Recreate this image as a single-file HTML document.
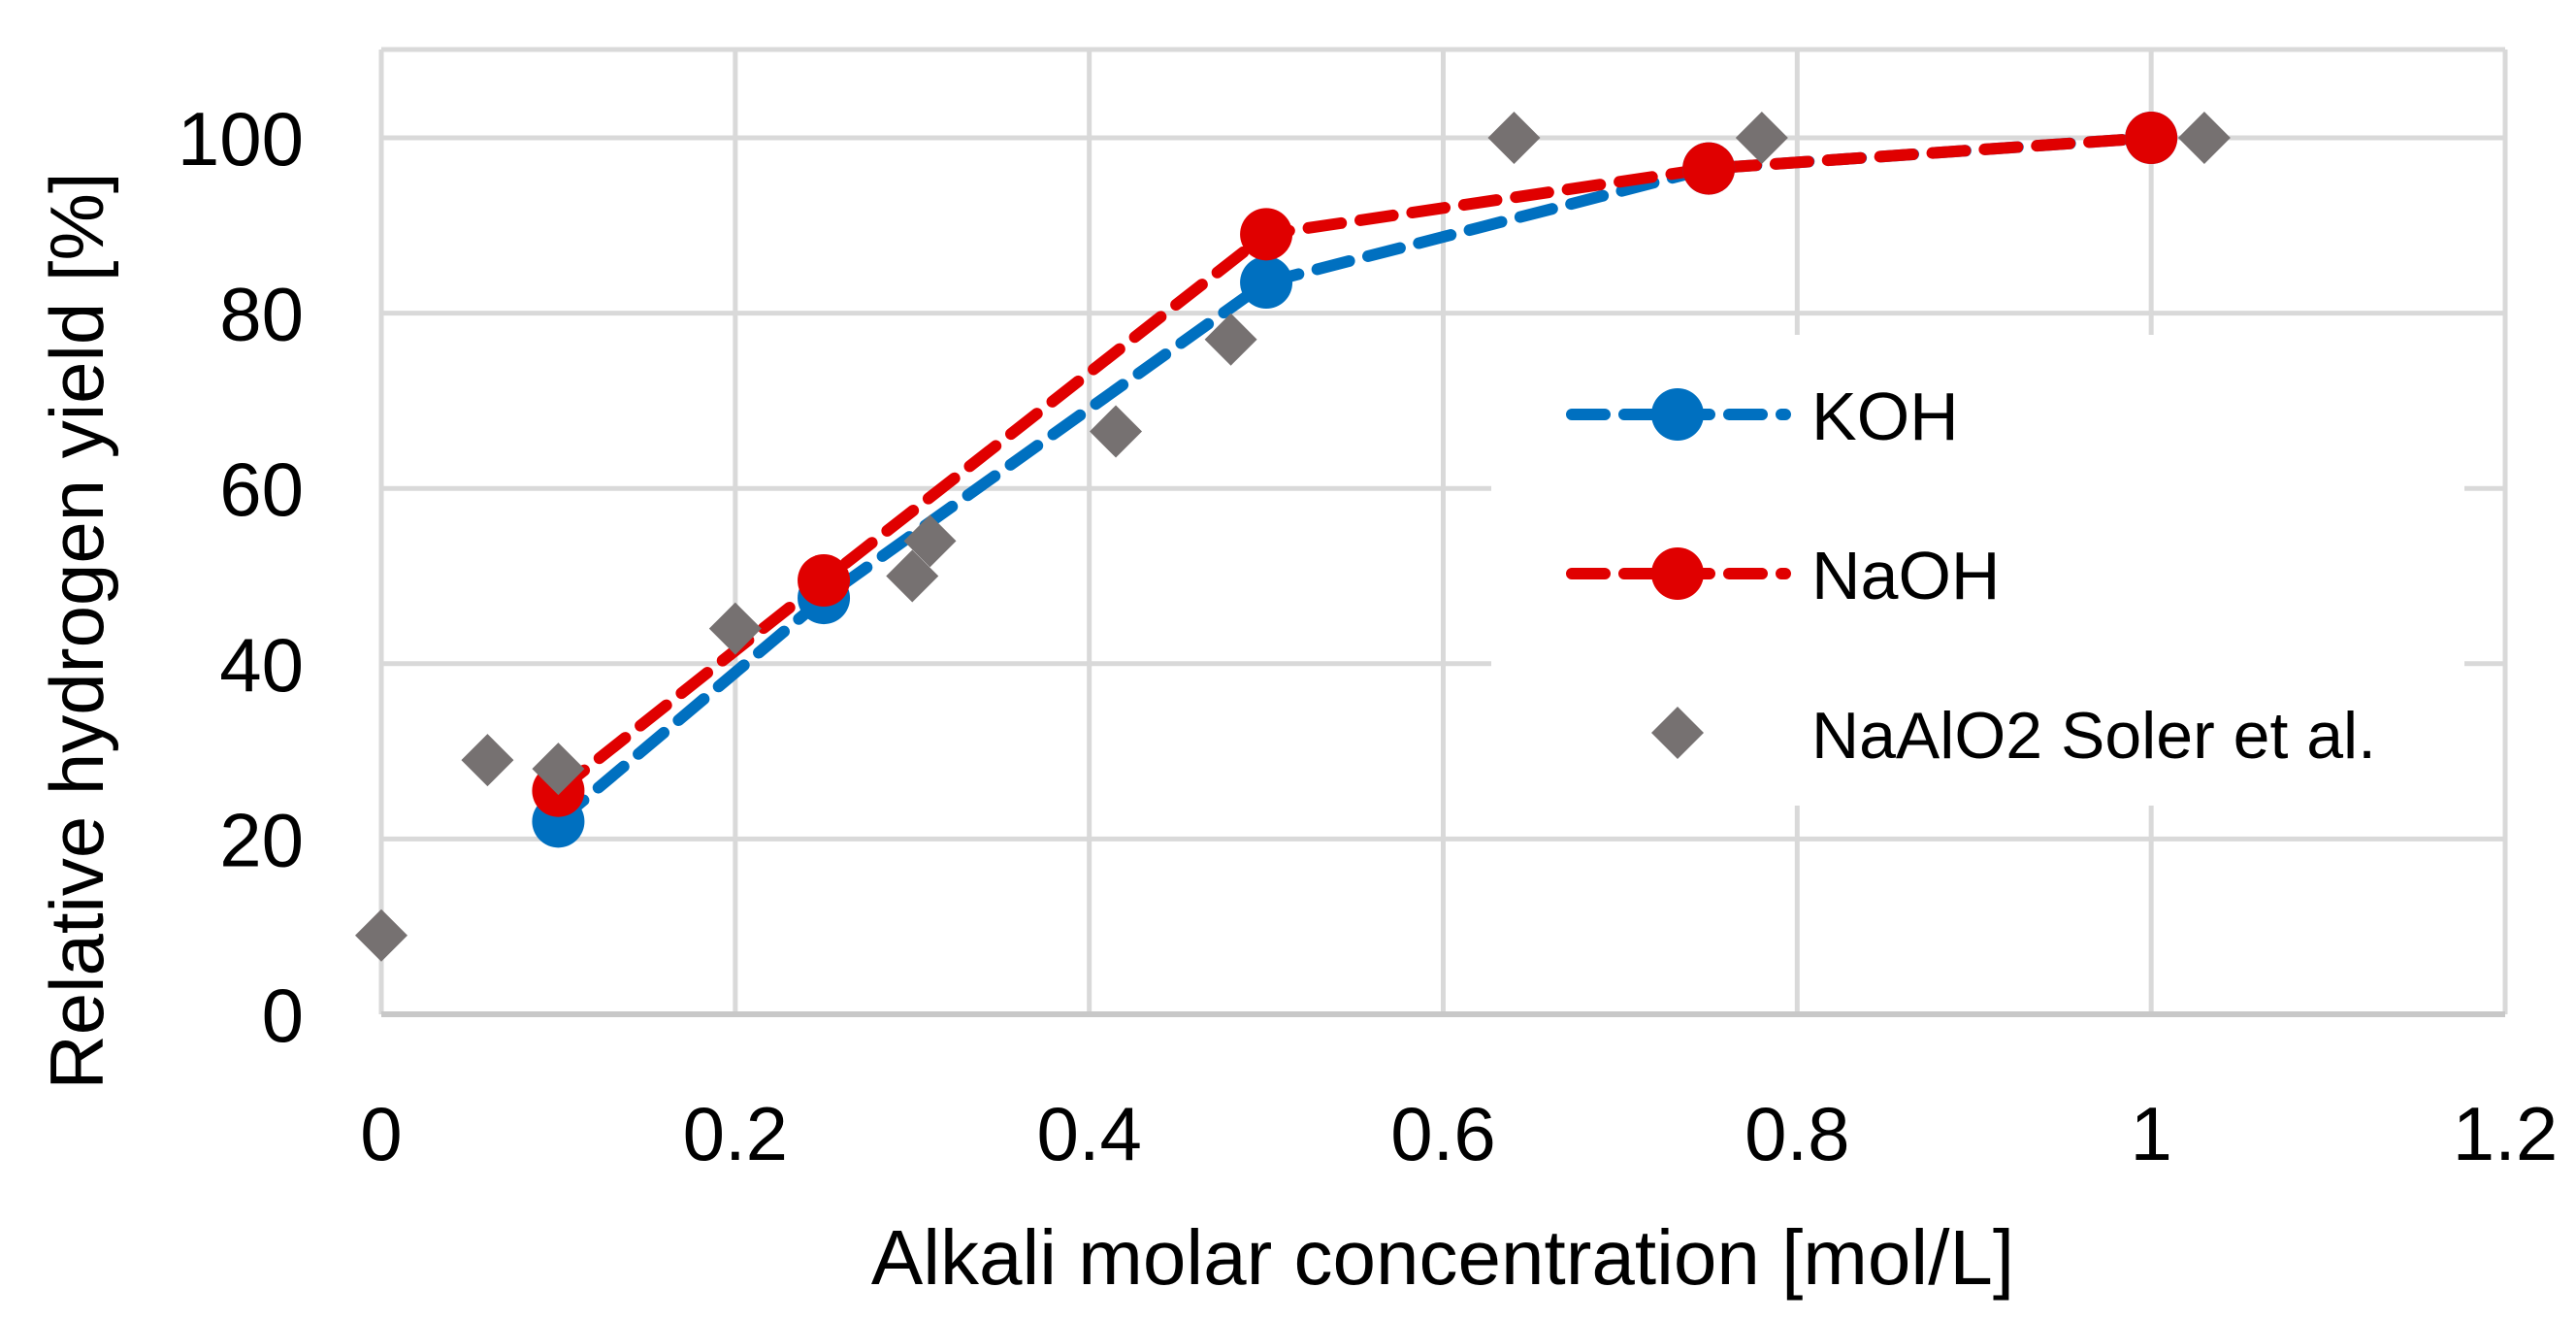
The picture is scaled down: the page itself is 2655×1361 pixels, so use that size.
<!DOCTYPE html>
<html><head><meta charset="utf-8"><style>
html,body{margin:0;padding:0;background:#fff;}
svg{display:block;font-family:"Liberation Sans",sans-serif;}
</style></head><body>
<svg id="chart" width="2655" height="1361" viewBox="0 0 2655 1361">
<g id="grid"></g>
<g id="series"></g>
<rect x="1537" y="345" width="1003" height="485" fill="#fff"/>
<g id="legend"></g>
<g id="axes"></g>
<text x="1487" y="1323" font-size="80" text-anchor="middle" fill="#000">Alkali molar concentration [mol/L]</text>
<text transform="translate(106,650) rotate(-90)" font-size="78" text-anchor="middle" fill="#000">Relative hydrogen yield [%]</text>
</svg>
<script>
const xTicks=[0,0.2,0.4,0.6,0.8,1,1.2];
const xTickLabels=["0","0.2","0.4","0.6","0.8","1","1.2"];
const yTicks=[0,20,40,60,80,100];
const yTickLabels=["0","20","40","60","80","100"];
const kohX=[0.1,0.25,0.5,0.75,1];
const kohY=[22,47.5,83.5,96.5,100];
const naohX=[0.1,0.25,0.5,0.75,1];
const naohY=[25.5,49.5,89,96.5,100];
const solerX=[0,0.06,0.1,0.2,0.3,0.31,0.415,0.48,0.64,0.78,1.03];
const solerY=[9,29,28,44,50,54,66.5,77,100,100,100];

const NS="http://www.w3.org/2000/svg";
const X0=393,X1=2582,Y0=1045,YTOP=51;
const sx=v=>X0+(X1-X0)*v/1.2;
const sy=v=>Y0-(Y0-142)*v/100;
function mk(tag,attrs,parent){const e=document.createElementNS(NS,tag);for(const k in attrs)e.setAttribute(k,attrs[k]);parent.appendChild(e);return e;}
const grid=document.getElementById('grid'),axes=document.getElementById('axes'),ser=document.getElementById('series'),leg=document.getElementById('legend');
const gc="#d9d9d9";
yTicks.forEach((t,i)=>{
  if(t>0){const l=mk('line',{x1:X0,x2:X1,y1:sy(t),y2:sy(t),stroke:gc,'stroke-width':5},grid);
  
  }
  const tx=mk('text',{x:313,y:sy(t)+28,'font-size':78,'text-anchor':'end',fill:'#000'},axes);
  tx.textContent=yTickLabels[i];
  
  
});
xTicks.forEach((t,i)=>{
  const l=mk('line',{x1:sx(t),x2:sx(t),y1:YTOP,y2:Y0,stroke:gc,'stroke-width':5},grid);
  
  
  const tx=mk('text',{x:sx(t),y:1195,'font-size':78,'text-anchor':'middle',fill:'#000'},axes);
  tx.textContent=xTickLabels[i];
  
  
});
const borderTop=mk('line',{x1:X0,x2:X1,y1:YTOP,y2:YTOP,stroke:gc,'stroke-width':5},grid);


const xa=mk('line',{x1:X0,x2:X1,y1:Y0,y2:Y0,stroke:"#c8c8c8",'stroke-width':6},axes);



function diamond(cx,cy,parent){return mk('polygon',{points:`${cx},${cy-27} ${cx+27},${cy} ${cx},${cy+27} ${cx-27},${cy}`,fill:'#767171'},parent);}
function lineSeries(xs,ys,color,name){
  const pts=xs.map((x,i)=>sx(x)+','+sy(ys[i])).join(' ');
  const pl=mk('polyline',{points:pts,fill:'none',stroke:color,'stroke-width':12,'stroke-dasharray':'34 20','stroke-linecap':'round'},ser);
  
  
  return ()=>xs.forEach((x,i)=>{const c=mk('circle',{cx:sx(x),cy:sy(ys[i]),r:27,fill:color},ser);
    
    });
}
const dk=lineSeries(kohX,kohY,'#0070c0','koh');
const dn=lineSeries(naohX,naohY,'#e00000','naoh');
dk();dn();
solerX.forEach((x,i)=>{const d=diamond(sx(x),sy(solerY[i]),ser);
  
  });

const entries=[["KOH","#0070c0",427],["NaOH","#e00000",591]];
entries.forEach(e=>{
  const l=mk('line',{x1:1620,x2:1840,y1:e[2],y2:e[2],stroke:e[1],'stroke-width':12,'stroke-dasharray':'34 20','stroke-linecap':'round'},leg);
  
  
  const c=mk('circle',{cx:1729,cy:e[2],r:27,fill:e[1]},leg);
  
  
  const t=mk('text',{x:1867,y:e[2]+26,'font-size':70,fill:'#000'},leg);
  t.textContent=e[0];
  
  
});
const ld=diamond(1729,755,leg);


const lt=mk('text',{x:1867,y:781,'font-size':68,fill:'#000'},leg);
lt.textContent="NaAlO2 Soler et al.";


</script>
</body></html>
